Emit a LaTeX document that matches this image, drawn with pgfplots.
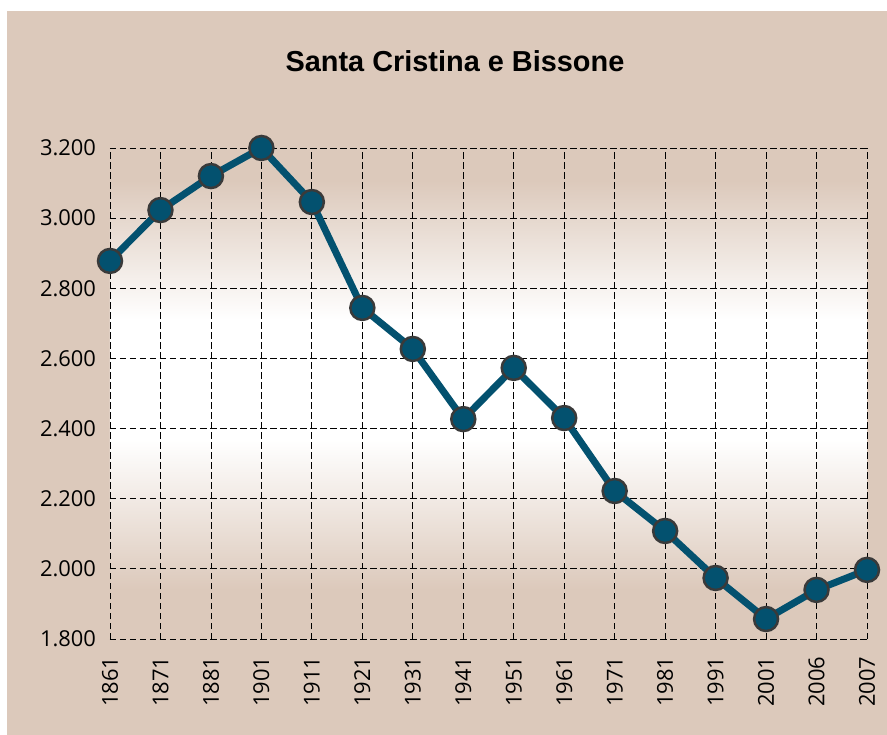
\documentclass[border=0pt]{standalone}
\usepackage{pgfplots}
\pgfplotsset{compat=1.18}
\usepackage{fontspec}
\setmainfont{Open Sans}
\newfontfamily\titlefont{Liberation Sans}
\definecolor{bg}{HTML}{DCC9BB}
\definecolor{ln}{HTML}{03516F}
\definecolor{mk}{HTML}{3A3A3A}
\pgfdeclareverticalshading{plotbg}{100bp}{color(0bp)=(bg); color(30bp)=(bg); color(45.3bp)=(white); color(57.5bp)=(white); color(71.7bp)=(bg); color(100bp)=(bg)}
\begin{document}
\begin{tikzpicture}
\fill[white] (-110bp,-96bp) rectangle (777bp,639bp);
\fill[bg] (-103bp,-96bp) rectangle (777bp,628bp);
\node[font=\titlefont\bfseries\fontsize{29}{34}\selectfont] at (345bp,578bp) {Santa Cristina e Bissone};
\begin{axis}[at={(0,0)}, anchor=south west, scale only axis, width=757bp, height=491bp,
 xmin=0, xmax=15, ymin=1800, ymax=3200, clip=false,
 xtick={0,...,15},
 xticklabels={1861,1871,1881,1901,1911,1921,1931,1941,1951,1961,1971,1981,1991,2001,2006,2007},
 ytick={1800,2000,...,3200},
 grid=major,
 major grid style={black, line width=0.8bp, dash pattern=on 6.5bp off 3.5bp},
 axis line style={draw=none}, tick style={draw=none},
 axis background/.style={shading=plotbg},
 scaled y ticks=false,
 /pgf/number format/.cd, 1000 sep={.}, assume math mode=true, /pgfplots/.cd,
 tick label style={font=\fontsize{22}{24}\selectfont, text=black},
 xticklabel style={rotate=90, anchor=east, xshift=-14bp},
 yticklabel style={xshift=-10.5bp},
]
\addplot[ln, line width=7bp, mark=*, mark size=12bp, mark options={fill=ln, draw=mk, line width=2.5bp}]
 coordinates {(0,2878) (1,3023) (2,3120) (3,3200) (4,3046) (5,2744) (6,2627) (7,2427) (8,2573) (9,2430) (10,2222) (11,2108) (12,1974) (13,1857) (14,1940) (15,1997)};
\end{axis}
\end{tikzpicture}
\end{document}
